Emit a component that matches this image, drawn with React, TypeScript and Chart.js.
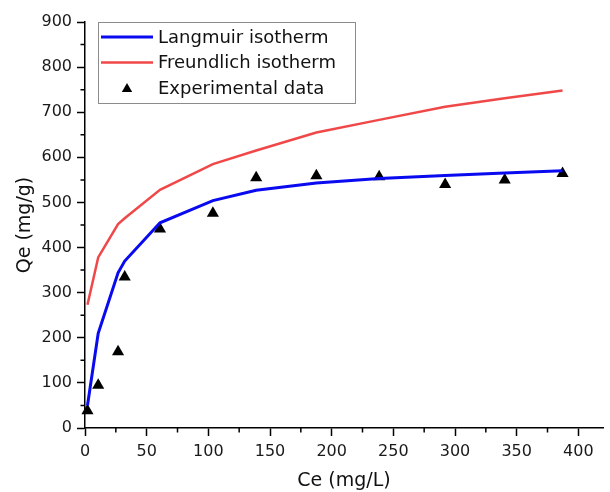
import React, { useEffect, useRef } from 'react';
import { Chart, registerables } from 'chart.js';

Chart.register(...registerables);

// Data
const ceValues = [2, 10.7, 26.8, 32.2, 60.8, 103.7, 138.8, 187.6, 238.5, 292, 340.3, 387.2];
const experimentalQe = [38, 95, 169, 335, 441, 476, 555, 559, 557, 540, 550, 564];
const langmuirQe = [50, 210, 344, 370, 455, 504, 527, 543, 553, 560, 565, 570];
const freundlichQe = [273, 378, 452, 465, 528, 585, 615, 655, 683, 712, 731, 748];
const xTickValues = [0, 50, 100, 150, 200, 250, 300, 350, 400];
const xMinorTicks = [25, 75, 125, 175, 225, 275, 325, 375];
const yTickValues = [0, 100, 200, 300, 400, 500, 600, 700, 800, 900];
const yMinorTicks = [50, 150, 250, 350, 450, 550, 650, 750, 850];

const FONT = "'DejaVu Sans', 'Liberation Sans', Arial, sans-serif";

const minorTickPlugin = {
  id: 'minorTicks',
  afterDraw(chart: any) {
    const ctx = chart.ctx;
    const xs = chart.scales.x;
    const ys = chart.scales.y;
    ctx.save();
    ctx.strokeStyle = '#000';
    ctx.lineWidth = 1.5;
    ctx.beginPath();
    xMinorTicks.forEach((v) => {
      const px = xs.getPixelForValue(v);
      ctx.moveTo(px, ys.bottom);
      ctx.lineTo(px, ys.bottom + 4.5);
    });
    yMinorTicks.forEach((v) => {
      const py = ys.getPixelForValue(v);
      ctx.moveTo(xs.left, py);
      ctx.lineTo(xs.left - 4.5, py);
    });
    ctx.stroke();
    ctx.restore();
  },
};

const legendPlugin = {
  id: 'boxLegend',
  afterDraw(chart: any) {
    const ctx = chart.ctx;
    const ds = chart.data.datasets;
    const bx = 98.5, by = 22.5, bw = 257, bh = 81;
    ctx.save();
    ctx.fillStyle = '#ffffff';
    ctx.fillRect(bx, by, bw, bh);
    ctx.strokeStyle = '#8c8c8c';
    ctx.lineWidth = 1;
    ctx.strokeRect(bx, by, bw, bh);
    const rows = [37, 62.5, 88];
    ctx.font = `18px ${FONT}`;
    ctx.textBaseline = 'middle';
    ctx.textAlign = 'left';
    ds.forEach((d: any, i: number) => {
      const y = rows[i];
      if (d.showLine === false) {
        ctx.fillStyle = d.pointBackgroundColor;
        const r = 6;
        const cx = 127;
        const cy = y + 1;
        ctx.beginPath();
        ctx.moveTo(cx, cy - r);
        ctx.lineTo(cx + r * 0.866, cy + r / 2);
        ctx.lineTo(cx - r * 0.866, cy + r / 2);
        ctx.closePath();
        ctx.fill();
      } else {
        ctx.strokeStyle = d.borderColor;
        ctx.lineWidth = d.borderWidth;
        ctx.beginPath();
        ctx.moveTo(101, y);
        ctx.lineTo(153, y);
        ctx.stroke();
      }
      ctx.fillStyle = '#111';
      ctx.fillText(d.label, 158, y + 1);
    });
    ctx.restore();
  },
};

export default function App() {
  const ref = useRef<HTMLCanvasElement | null>(null);

  useEffect(() => {
    if (!ref.current) return;
    const toPts = (ys: number[]) => ceValues.map((x, i) => ({ x, y: ys[i] }));
    const chart = new Chart(ref.current, {
      type: 'scatter',
      data: {
        datasets: [
          {
            label: 'Langmuir isotherm',
            data: toPts(langmuirQe),
            showLine: true,
            borderColor: '#0a0af0',
            backgroundColor: '#0a0af0',
            borderWidth: 3,
            pointRadius: 0,
            tension: 0,
          },
          {
            label: 'Freundlich isotherm',
            data: toPts(freundlichQe),
            showLine: true,
            borderColor: '#f04848',
            backgroundColor: '#f04848',
            borderWidth: 2.5,
            pointRadius: 0,
            tension: 0,
          },
          {
            label: 'Experimental data',
            data: toPts(experimentalQe),
            showLine: false,
            pointStyle: 'triangle',
            pointRadius: 7,
            pointBackgroundColor: '#000',
            pointBorderColor: '#000',
            pointBorderWidth: 0,
            clip: false as any,
          },
        ] as any,
      },
      options: {
        animation: false,
        responsive: false,
        maintainAspectRatio: false,
        layout: { padding: { top: 22, right: 2, left: 0, bottom: 0 } },
        plugins: {
          legend: { display: false },
          tooltip: { enabled: false },
        },
        scales: {
          x: {
            type: 'linear',
            min: 0,
            max: 420,
            afterBuildTicks: (s: any) => {
              s.ticks = xTickValues.map((v) => ({ value: v }));
            },
            afterFit: (s: any) => {
              s.height = 64;
            },
            border: { display: true, color: '#000', width: 1.5 },
            grid: {
              display: true,
              drawOnChartArea: false,
              drawTicks: true,
              tickLength: 8,
              tickColor: '#000',
              tickWidth: 1.5,
            },
            ticks: {
              color: '#1a1a1a',
              font: { family: FONT, size: 16 },
              padding: 6,
              maxRotation: 0,
              autoSkip: false,
            },
            title: {
              display: true,
              text: 'Ce (mg/L)',
              color: '#111',
              font: { family: FONT, size: 19 },
              padding: { top: 4, bottom: 0 },
            },
          },
          y: {
            type: 'linear',
            min: 0,
            max: 900,
            afterBuildTicks: (s: any) => {
              s.ticks = yTickValues.map((v) => ({ value: v }));
            },
            afterFit: (s: any) => {
              s.width = 85;
            },
            border: { display: true, color: '#000', width: 1.5 },
            grid: {
              display: true,
              drawOnChartArea: false,
              drawTicks: true,
              tickLength: 8,
              tickColor: '#000',
              tickWidth: 1.5,
            },
            ticks: {
              color: '#1a1a1a',
              font: { family: FONT, size: 16 },
              padding: 5,
              autoSkip: false,
            },
            title: {
              display: true,
              text: 'Qe (mg/g)',
              color: '#111',
              font: { family: FONT, size: 19 },
              padding: { top: 14, bottom: 4 },
            },
          },
        },
      } as any,
      plugins: [minorTickPlugin, legendPlugin],
    });
    return () => chart.destroy();
  }, []);

  return (
    <div style={{ position: 'absolute', left: 0, top: 0, width: 610, height: 492, background: '#fff' }}>
      <canvas ref={ref} width={610} height={492} style={{ width: 610, height: 492, display: 'block' }} />
    </div>
  );
}
